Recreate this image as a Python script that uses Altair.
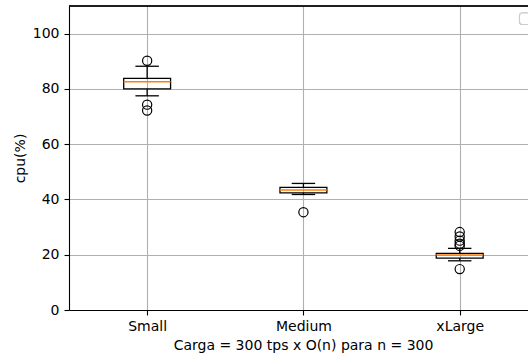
import json
import altair as alt
import pandas as pd

# ---- data ----
categories = ["Small", "Medium", "xLarge"]
positions = [1, 2, 3]
q1 = [80.0, 42.4, 18.8]
median = [82.6, 43.4, 19.9]
q3 = [83.8, 44.4, 20.5]
whisker_low = [77.5, 41.8, 17.8]
whisker_high = [88.2, 45.8, 22.3]
outliers = [[90.2, 74.3, 72.2], [35.4], [28.2, 26.6, 25.1, 24.0, 23.2, 14.8]]
y_ticks = [0, 20, 40, 60, 80, 100]
x_title = "Carga = 300 tps x O(n) para n = 300"
y_title = "cpu(%)"

box_half = 0.15
cap_half = 0.075
FONT = "DejaVu Sans"
FS = 14

boxes = pd.DataFrame({
    "cat": categories,
    "pos": positions,
    "left": [p - box_half for p in positions],
    "right": [p + box_half for p in positions],
    "capl": [p - cap_half for p in positions],
    "capr": [p + cap_half for p in positions],
    "q1": q1, "median": median, "q3": q3,
    "lo": whisker_low, "hi": whisker_high,
})
out_rows = []
for c, p, vals in zip(categories, positions, outliers):
    for v in vals:
        out_rows.append({"cat": c, "pos": p, "value": v})
outs = pd.DataFrame(out_rows)

xs = alt.Scale(domain=[0.5, 3.437], nice=False, zero=False)
ys = alt.Scale(domain=[0, 110], nice=False, zero=False)

label_expr = f"{json.dumps(categories)}[datum.value - 1]"

x_axis = alt.Axis(
    values=positions, labelExpr=label_expr, grid=True, gridColor="#b0b0b0",
    gridWidth=1.1, domainColor="black", domainWidth=1.1, tickColor="black",
    tickSize=5, tickWidth=1.1, labelPadding=4, labelFont=FONT, labelFontSize=FS,
    labelColor="black", title=x_title, titleFont=FONT, titleFontSize=FS,
    titleFontWeight="normal", titleColor="black", titleX=234, titleY=35,
    titleBaseline="middle", labelFlush=False,
)
y_axis = alt.Axis(
    values=y_ticks, grid=True, gridColor="#b0b0b0", gridWidth=1.1,
    domainColor="black", domainWidth=1.1, tickColor="black", tickSize=5,
    tickWidth=1.1, labelPadding=5, labelFont=FONT, labelFontSize=FS,
    labelColor="black", title=y_title, titleFont=FONT, titleFontSize=FS,
    titleFontWeight="normal", titleColor="black", titleX=-49, titleY=152,
    titleAngle=270, titleBaseline="middle", labelFlush=False,
)


def X(field):
    return alt.X(field, type="quantitative", scale=xs, axis=x_axis)


def Y(field):
    return alt.Y(field, type="quantitative", scale=ys, axis=y_axis)


base = alt.Chart(boxes)

box = base.mark_rect(fill=None, stroke="black", strokeWidth=1.3).encode(
    x=X("left"), x2="right", y=Y("q1"), y2="q3",
)
med = base.mark_rule(color="#ff7f0e", strokeWidth=1.4).encode(
    x=X("left"), x2="right", y=Y("median"),
)
wl = base.mark_rule(color="black", strokeWidth=1.3).encode(
    x=X("pos"), y=Y("lo"), y2="q1",
)
wh = base.mark_rule(color="black", strokeWidth=1.3).encode(
    x=X("pos"), y=Y("q3"), y2="hi",
)
capl = base.mark_rule(color="black", strokeWidth=1.3).encode(
    x=X("capl"), x2="capr", y=Y("lo"),
)
caph = base.mark_rule(color="black", strokeWidth=1.3).encode(
    x=X("capl"), x2="capr", y=Y("hi"),
)
pts = alt.Chart(outs).mark_point(shape="circle", filled=False, color="black",
                                 size=85, strokeWidth=1.2, opacity=1).encode(
    x=X("pos"), y=Y("value"),
)
top_spine = alt.Chart(boxes).mark_rule(color="black", strokeWidth=1.1).encode(
    x=alt.value(0), x2=alt.value(459), y=alt.value(0)
)
legend_box = alt.Chart(boxes).mark_rect(
    fill="white", stroke="#cccccc", strokeWidth=1.1, cornerRadius=3
).encode(x=alt.value(450.5), x2=alt.value(475), y=alt.value(7), y2=alt.value(18.5))

chart = alt.layer(box, med, wl, wh, capl, caph, pts, top_spine, legend_box).properties(
    width=459, height=304,
    autosize=alt.AutoSizeParams(type="none"),
    padding={"left": 69, "top": 6, "right": 0, "bottom": 48},
    background="white",
).configure_view(stroke=None)

chart.save("out.html", embed_options={"renderer": "svg", "actions": False})
